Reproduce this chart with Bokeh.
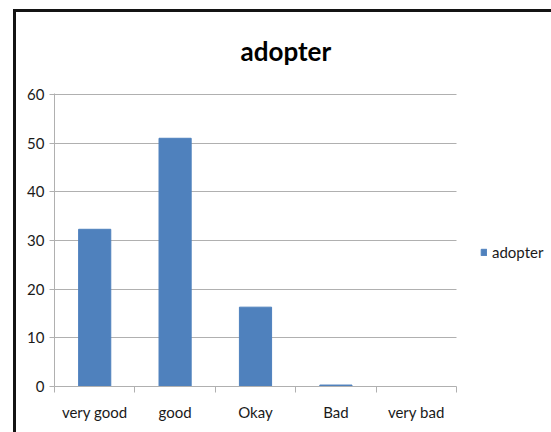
from bokeh.plotting import figure
from bokeh.models import (Range1d, FixedTicker, Legend, LegendItem, ColumnDataSource)
from bokeh.embed import file_html
from bokeh.resources import INLINE

categories = ["very good", "good", "Okay", "Bad", "very bad"]
values = [32.3, 51.0, 16.3, 0.3, 0.0]
y_ticks = [0, 10, 20, 30, 40, 50, 60]
series_name = "adopter"

FONT = "Lato"
BAR = "#4F81BD"
GRID = "#b0b0b0"
TXT = "#1a1a1a"

W, H = 551, 432
LEFT, TOP, BOTTOM = 54, 93, 46
PLOT_W = 402          # width of the category area in px
n = len(categories)
x_end = n * (W - LEFT) / PLOT_W   # extra room on the right for the legend

idx = list(range(n))
centers = [i + 0.5 for i in idx]
src = ColumnDataSource(dict(x=centers, top=values, cat=categories))

p = figure(width=W, height=H, output_backend="svg", toolbar_location=None,
           x_range=Range1d(0, x_end), y_range=Range1d(0, 60.2),
           min_border_left=LEFT, min_border_right=0, min_border_top=TOP,
           min_border_bottom=BOTTOM)
# dark chart-area border on the left and top edges (drawn behind the transparent canvas)
p.styles = {"background-color": "white",
            "box-shadow": "inset 13px 9px 0px 0px white, inset 16px 12px 0px 0px #141414"}
p.outline_line_color = None
p.background_fill_alpha = 0
p.border_fill_alpha = 0

# horizontal grid lines limited to the category area
grid_ok = False
try:
    p.ygrid.cross_bounds = (0, n)
    grid_ok = True
except Exception:
    grid_ok = False
if grid_ok:
    p.ygrid.grid_line_color = GRID
    p.ygrid.grid_line_width = 1
else:
    p.ygrid.grid_line_color = None
    p.segment(x0=[0] * len(y_ticks), x1=[n] * len(y_ticks), y0=y_ticks, y1=y_ticks,
              line_color=GRID, line_width=1)

r = p.vbar(x="x", top="top", width=0.4, bottom=0, source=src,
           fill_color=BAR, line_color=BAR)

# title
p.title.text = series_name
p.title.text_font = FONT
p.title.text_font_style = "bold"
p.title.text_font_size = "26px"
p.title.text_color = "black"
p.title.align = "left"
p.title.offset = 186
p.title.standoff = 54

# x axis: labels at centers, ticks at category boundaries
p.xaxis.bounds = (0, n)
p.xaxis.ticker = FixedTicker(ticks=centers, minor_ticks=[float(i) for i in range(n + 1)])
p.xaxis.major_label_overrides = {c: categories[i] for i, c in enumerate(centers)}
p.xaxis.major_tick_line_color = None
p.xaxis.major_tick_out = 0
p.xaxis.major_tick_in = 0
p.xaxis.minor_tick_line_color = GRID
p.xaxis.minor_tick_out = 6
p.xaxis.minor_tick_in = 0
p.xaxis.axis_line_color = GRID
p.xaxis.major_label_standoff = 10
p.xaxis.major_label_text_font = FONT
p.xaxis.major_label_text_font_size = "15px"
p.xaxis.major_label_text_color = TXT
p.xgrid.grid_line_color = None

# y axis
p.yaxis.ticker = FixedTicker(ticks=y_ticks, minor_ticks=[])
p.yaxis.axis_line_color = GRID
p.yaxis.major_tick_line_color = GRID
p.yaxis.major_tick_out = 5
p.yaxis.major_tick_in = 0
p.yaxis.minor_tick_line_color = None
p.yaxis.major_label_standoff = 5
p.yaxis.major_label_text_font = FONT
p.yaxis.major_label_text_font_size = "15px"
p.yaxis.major_label_text_color = TXT

# legend
legend = Legend(items=[LegendItem(label=series_name, renderers=[r])],
                location=(426, 125), padding=0, margin=0, spacing=0,
                border_line_color=None, background_fill_alpha=0,
                glyph_width=7, glyph_height=8, label_standoff=5,
                label_text_font=FONT, label_text_font_size="15px",
                label_height=16, label_text_color=TXT)
p.add_layout(legend)

open("out.html", "w").write(file_html(p, INLINE))
